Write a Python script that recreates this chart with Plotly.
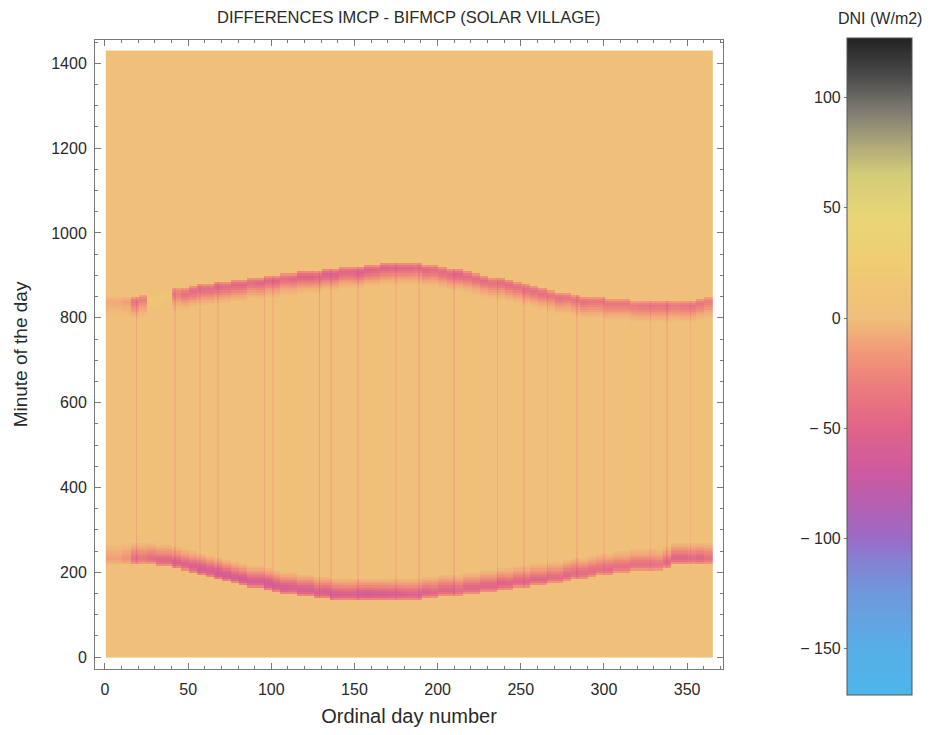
import plotly.graph_objects as go

# ---------------- data ----------------
# 5-day groups: days 1-5, 6-10, ..., 361-365 (73 groups)
GROUP_START_DAYS = list(range(1, 366, 5))

# lower band (sunrise) bottom edge, minute of day
RISE_EDGE = [220, 221, 222, 222, 221, 219, 216, 213, 208, 203,
             198, 193, 188, 183, 179, 175, 171, 167, 163, 159,
             155, 152, 149, 146, 143, 141, 139, 137, 136, 135,
             134, 133, 133, 133, 134, 134, 135, 137, 139, 141,
             143, 145, 147, 149, 151, 153, 155, 158, 160, 163,
             165, 168, 171, 174, 177, 181, 184, 187, 190, 193,
             196, 199, 201, 203, 204, 205, 207, 212, 218, 220,
             220, 220, 220]

# upper band (sunset) top edge, minute of day
SET_EDGE = [848, 849, 850, 851, 853, 856, 859, 863, 868, 872,
            875, 878, 881, 884, 887, 889, 892, 894, 897, 899,
            902, 904, 906, 908, 910, 912, 914, 916, 918, 920,
            922, 924, 926, 928, 929, 930, 930, 929, 927, 924,
            921, 917, 913, 909, 905, 901, 897, 893, 889, 885,
            880, 875, 870, 866, 862, 858, 855, 852, 850, 848,
            846, 844, 843, 842, 841, 840, 840, 840, 840, 841,
            842, 844, 848]

# strongest difference inside each band (W/m2)
RISE_PEAK = [-12, -12, -18, -40, -35,
             -42, -48, -48, -52, -52,
             -56, -60, -60, -64, -64, -60, -64, -60, -60, -64,
             -60, -60, -56, -60, -60, -56, -60, -60, -56, -56,
             -60, -64, -60, -60, -56, -56, -52, -52, -52, -48,
             -48, -48, -44, -48, -48, -48, -48, -52, -48, -48,
             -48, -48, -48, -44, -44, -48, -44, -44, -44, -40,
             -44, -40, -40, -40, -40, -40, -36, -44, -48, -48,
             -44, -48, -40]

SET_PEAK = [-8, -8, -12, -36, -30,
            12, 12, 8, -30, -40,
            -44, -44, -44, -48, -44, -48, -48, -44, -48, -48,
            -48, -44, -48, -52, -52, -48, -52, -52, -48, -48,
            -52, -52, -48, -52, -48, -48, -48, -44, -48, -44,
            -44, -44, -48, -44, -44, -44, -40, -44, -44, -40,
            -40, -40, -40, -36, -40, -36, -36, -40, -36, -36,
            -36, -36, -36, -32, -36, -36, -36, -36, -32, -36,
            -36, -36, -32]

# relative strength across the band, per 5-minute step away from the edge
RISE_PROFILE = [0.45, 0.8, 1.0, 0.95, 0.8, 0.6, 0.42, 0.28, 0.16, 0.08]
SET_PROFILE = [0.45, 0.8, 1.0, 0.9, 0.72, 0.52, 0.35, 0.22, 0.12, 0.05]

# thin vertical streaks during daytime
STREAK_DAYS = [19, 27, 42, 57, 68, 96, 101, 110, 129, 136, 152, 160, 175,
               189, 210, 222, 236, 252, 266, 275, 284, 300, 312, 328, 338, 352]
STREAK_VALUES = [-10, 6, -7, -5, -6, -8, -5, 5, -11, -7, -6, 5, -5,
                 -6, -7, 6, -8, -6, -6, 5, -7, -5, 5, -6, -7, -6]

DAYS = list(range(1, 366))
MINUTES = [m + 2.5 for m in range(0, 1430, 5)]

X_TICKS = [0, 50, 100, 150, 200, 250, 300, 350]
Y_TICKS = [0, 200, 400, 600, 800, 1000, 1200, 1400]
CB_TICKS = [-150, -100, -50, 0, 50, 100]
CB_TICKTEXT = ["\u2212 150", "\u2212 100", "\u2212 50", "0", "50", "100"]
Z_MIN, Z_MAX = -171, 127

# ---------------- build grid ----------------
streak = dict(zip(STREAK_DAYS, STREAK_VALUES))
z = []
for m in MINUTES:
    row = []
    for d in DAYS:
        g = (d - 1) // 5
        s, e = RISE_EDGE[g], SET_EDGE[g]
        sv = streak.get(d, 0)
        v = 0
        if s <= m <= e:
            v = sv
        k = int((m - s) // 5)
        if 0 <= m - s and k < len(RISE_PROFILE):
            v = RISE_PEAK[g] * RISE_PROFILE[k] + min(sv, 0) * 1.5
        k2 = int((e - m) // 5)
        if 0 <= e - m and k2 < len(SET_PROFILE):
            v = SET_PEAK[g] * SET_PROFILE[k2] + min(sv, 0) * 1.5
        row.append(round(v, 1))
    z.append(row)

def frac(v):
    return (v - Z_MIN) / (Z_MAX - Z_MIN)

colorscale = [
    [frac(-171), "#4db6ea"],
    [frac(-150), "#58aee6"],
    [frac(-125), "#6f98dc"],
    [frac(-110), "#8680d2"],
    [frac(-100), "#9a6cc6"],
    [frac(-85), "#b660b2"],
    [frac(-70), "#cc5aa0"],
    [frac(-50), "#e06488"],
    [frac(-30), "#ec7e7c"],
    [frac(-15), "#f19a78"],
    [frac(0), "#f0bf7a"],
    [frac(25), "#f0cc72"],
    [frac(45), "#e8d676"],
    [frac(65), "#d4cc7a"],
    [frac(80), "#aaa47a"],
    [frac(95), "#7a7870"],
    [frac(110), "#4a4a4a"],
    [frac(127), "#222222"],
]

FONT = "Liberation Sans, Arial, sans-serif"
TXT = "#2a2a2a"

fig = go.Figure()
fig.add_trace(go.Heatmap(
    x=DAYS, y=MINUTES, z=z, zmin=Z_MIN, zmax=Z_MAX,
    colorscale=colorscale, zsmooth=False, hoverinfo="skip",
    colorbar=dict(
        x=0.9148, xanchor="left", xpad=0, y=0, yanchor="bottom", ypad=0,
        len=1, lenmode="fraction", thickness=65, thicknessmode="pixels",
        outlinewidth=1, outlinecolor="#555555",
        showticklabels=False, ticks="",
    ),
))
# invisible trace holding the colour-bar value axis
fig.add_trace(go.Scatter(
    x=[0, 1], y=[Z_MIN, Z_MAX], xaxis="x2", yaxis="y2", mode="markers",
    marker=dict(opacity=0), hoverinfo="skip", showlegend=False,
))

axis_common = dict(
    showgrid=False, zeroline=False, showline=True, linecolor="#7a7a7a",
    linewidth=1, mirror="ticks", ticks="inside", ticklen=6, tickcolor="#7a7a7a",
    tickfont=dict(family=FONT, size=16, color=TXT), automargin=False,
)

# page body has an 8px default margin, so the figure is 16px smaller than the window
fig.update_layout(
    width=926, height=719,
    margin=dict(l=87, r=17, t=30, b=32, autoexpand=False),
    paper_bgcolor="white", plot_bgcolor="white",
    showlegend=False,
    xaxis=dict(
        axis_common, domain=[0, 0.764], range=[-6, 371.6],
        tickvals=X_TICKS, ticklabelstandoff=6,
        minor=dict(dtick=10, tick0=0, ticks="inside", ticklen=3, tickcolor="#7a7a7a"),
        title=dict(text="Ordinal day number", standoff=13,
                   font=dict(family=FONT, size=20, color=TXT)),
    ),
    yaxis=dict(
        axis_common, domain=[0.03957, 0.99696], range=[-28, 1455],
        tickvals=Y_TICKS, ticklabelstandoff=4,
        minor=dict(dtick=50, tick0=0, ticks="inside", ticklen=3, tickcolor="#7a7a7a"),
        title=dict(text="Minute of the day", standoff=18,
                   font=dict(family=FONT, size=19, color=TXT)),
    ),
    xaxis2=dict(domain=[0.9148, 0.994], anchor="y2", visible=False, range=[0, 1]),
    yaxis2=dict(
        domain=[0, 1], anchor="free", position=0.9148, side="left",
        range=[Z_MIN, Z_MAX], tickvals=CB_TICKS, ticktext=CB_TICKTEXT,
        showgrid=False, zeroline=False, showline=False, automargin=False,
        ticks="outside", ticklen=3, tickcolor="#777777",
        tickfont=dict(family=FONT, size=16, color=TXT),
    ),
    annotations=[
        dict(text="DIFFERENCES IMCP - BIFMCP (SOLAR VILLAGE)", xref="paper", yref="paper",
             x=0.382, y=1.0, yshift=21, xanchor="center", yanchor="middle", showarrow=False,
             font=dict(family=FONT, size=16.5, color=TXT)),
        dict(text="DNI (W/m2)", xref="paper", yref="paper",
             x=0.9148 + 33 / 822, y=1.0, yshift=20, xanchor="center", yanchor="middle",
             showarrow=False, font=dict(family=FONT, size=16, color=TXT)),
    ],
)

fig.write_html("out.html")
